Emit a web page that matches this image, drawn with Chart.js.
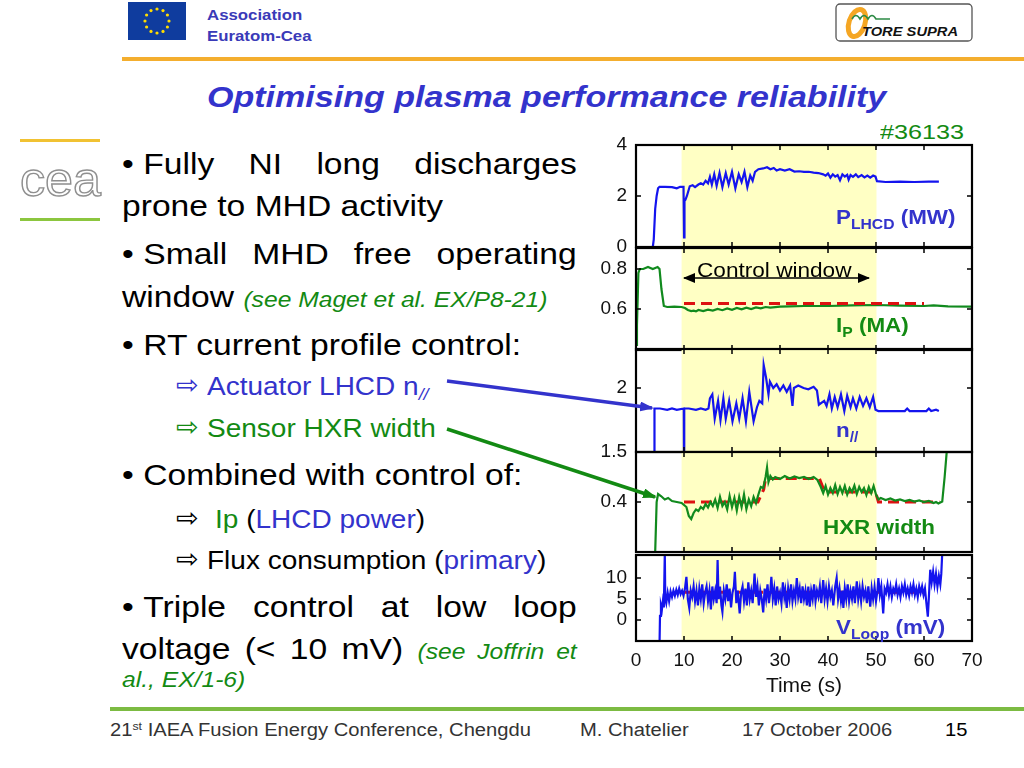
<!DOCTYPE html>
<html><head><meta charset="utf-8">
<script src="https://cdn.jsdelivr.net/npm/chart.js@4.4.1/dist/chart.umd.min.js"></script>
<style>
html,body{margin:0;padding:0;background:#fff;}
body{width:1024px;height:768px;position:relative;overflow:hidden;font-family:"Liberation Sans",Arial,Helvetica,sans-serif;}
.a{position:absolute;white-space:nowrap;transform-origin:0 0;}
.m{font-size:30px;line-height:30px;color:#000;transform:scaleX(1.12);}
.j{width:406px;white-space:normal;text-align:justify;text-align-last:justify;}
.b{display:inline-block;width:19px;}
.s{font-size:25px;line-height:25px;transform:scaleX(1.12);}
.ar{font-family:"DejaVu Sans",sans-serif;font-size:27px;line-height:27px;}
.ref{font-size:22px;font-style:italic;color:#138a13;}
.bl{color:#3333cc;} .gr{color:#138a13;}
.lab{font-size:20px;line-height:20px;font-weight:bold;transform:scaleX(1.12);}
.sub{font-size:14px;position:relative;top:5px;}
.f{font-size:18px;line-height:18px;color:#333;transform:scaleX(1.12);}
canvas{position:absolute;}
</style>
</head><body>

<!-- header -->
<svg class="a" style="left:0;top:0" width="1024" height="768">
  <rect x="128" y="2" width="58" height="38" fill="#0f3c9e"/>
  <g fill="#ffdd00">
    <circle cx="157" cy="9" r="1.6"/><circle cx="163" cy="10.6" r="1.6"/><circle cx="167.4" cy="15" r="1.6"/>
    <circle cx="169" cy="21" r="1.6"/><circle cx="167.4" cy="27" r="1.6"/><circle cx="163" cy="31.4" r="1.6"/>
    <circle cx="157" cy="33" r="1.6"/><circle cx="151" cy="31.4" r="1.6"/><circle cx="146.6" cy="27" r="1.6"/>
    <circle cx="145" cy="21" r="1.6"/><circle cx="146.6" cy="15" r="1.6"/><circle cx="151" cy="10.6" r="1.6"/>
  </g>
  <rect x="836" y="4" width="136" height="37" rx="4" fill="#fff" stroke="#555" stroke-width="1.3"/>
  <ellipse cx="857" cy="23" rx="8" ry="14" fill="none" stroke="#f5a623" stroke-width="5" transform="rotate(18 857 23)"/>
  <path d="M852 19 q4 -7 8 0 q4 -7 8 0 q4 -7 8 0 l14 0" stroke="#2d8a45" fill="none" stroke-width="1.6"/>
  <text x="862" y="36" font-family="Liberation Sans" font-style="italic" font-weight="bold" font-size="13" fill="#111" textLength="96" lengthAdjust="spacingAndGlyphs">TORE SUPRA</text>
  <rect x="122" y="57" width="902" height="4" fill="#f4ae2e"/>
  <!-- cea logo -->
  <rect x="20" y="139" width="80" height="3" fill="#f1c232"/>
  <rect x="20" y="218" width="80" height="3" fill="#8cc63f"/>
  <text x="20" y="196" font-family="Liberation Sans" font-size="48" fill="#fff" stroke="#8f8f8f" stroke-width="1.4" textLength="81" lengthAdjust="spacingAndGlyphs">cea</text>
  <!-- footer line -->
  <rect x="110" y="707" width="914" height="4" fill="#7cbb42"/>
</svg>

<div class="a" style="left:207px;top:7px;font-size:15px;line-height:15px;font-weight:bold;color:#3a3ab8;transform:scaleX(1.12)">Association</div>
<div class="a" style="left:207px;top:28px;font-size:15px;line-height:15px;font-weight:bold;color:#3a3ab8;transform:scaleX(1.12)">Euratom-Cea</div>
<div class="a" style="left:207px;top:82px;font-size:30px;line-height:30px;font-weight:bold;font-style:italic;color:#3333cc;transform:scaleX(1.135)">Optimising plasma performance reliability</div>
<div class="a gr" style="left:880px;top:121px;font-size:21px;line-height:21px;transform:scaleX(1.2)">#36133</div>

<!-- bullet text -->
<div class="a m j" style="left:122px;top:149px"><span class="b">•</span>Fully NI long discharges</div>
<div class="a m" style="left:122px;top:191px">prone to MHD activity</div>
<div class="a m j" style="left:122px;top:239px"><span class="b">•</span>Small MHD free operating</div>
<div class="a m" style="left:122px;top:282px">window <span class="ref">(see Maget et al. EX/P8-21)</span></div>
<div class="a m" style="left:122px;top:330px"><span class="b">•</span>RT current profile control:</div>
<div class="a ar bl" style="left:176px;top:371px">⇨</div>
<div class="a s bl" style="left:207px;top:374px">Actuator LHCD n<span style="font-size:16px;position:relative;top:5px;font-style:italic">//</span></div>
<div class="a ar gr" style="left:176px;top:413px">⇨</div>
<div class="a s gr" style="left:207px;top:416px">Sensor HXR width</div>
<div class="a m" style="left:122px;top:460px"><span class="b">•</span>Combined with control of:</div>
<div class="a ar" style="left:176px;top:504px">⇨</div>
<div class="a s" style="left:215px;top:507px"><span class="gr">Ip</span> (<span class="bl">LHCD power</span>)</div>
<div class="a ar" style="left:176px;top:545px">⇨</div>
<div class="a s" style="left:207px;top:548px">Flux consumption (<span class="bl">primary</span>)</div>
<div class="a m j" style="left:122px;top:592px"><span class="b">•</span>Triple control at low loop</div>
<div class="a m j" style="left:122px;top:634px">voltage (&lt; 10 mV) <span class="ref">(see Joffrin et</span></div>
<div class="a ref" style="left:122px;top:669px;line-height:22px;transform:scaleX(1.12)">al., EX/1-6)</div>

<!-- footer -->
<div class="a f" style="left:110px;top:721px">21<span style="font-size:11px;position:relative;top:-6px">st</span> IAEA Fusion Energy Conference, Chengdu</div>
<div class="a f" style="left:580px;top:721px">M. Chatelier</div>
<div class="a f" style="left:742px;top:721px">17 October 2006</div>
<div class="a f" style="left:945px;top:721px;color:#000">15</div>

<canvas id="c1"></canvas>
<canvas id="c2"></canvas>
<canvas id="c3"></canvas>
<canvas id="c4"></canvas>
<canvas id="c5"></canvas>

<svg class="a" style="left:0;top:0;pointer-events:none" width="1024" height="768">
  <defs>
    <marker id="mb2" markerWidth="14" markerHeight="10" refX="12" refY="5" orient="auto" markerUnits="userSpaceOnUse"><path d="M0,0 L14,5 L0,10 z" fill="#3333cc"/></marker>
    <marker id="mg2" markerWidth="14" markerHeight="10" refX="12" refY="5" orient="auto" markerUnits="userSpaceOnUse"><path d="M0,0 L14,5 L0,10 z" fill="#138a13"/></marker>
    <marker id="mk2" markerWidth="12" markerHeight="10" refX="11" refY="5" orient="auto-start-reverse" markerUnits="userSpaceOnUse"><path d="M0,0 L12,5 L0,10 z" fill="#000"/></marker>
  </defs>
  <line x1="447" y1="381" x2="652" y2="408" stroke="#3333cc" stroke-width="3.5" marker-end="url(#mb2)"/>
  <line x1="447" y1="429" x2="655" y2="497" stroke="#138a13" stroke-width="3.5" marker-end="url(#mg2)"/>
  <line x1="684" y1="278" x2="869" y2="278" stroke="#000" stroke-width="1.5" marker-start="url(#mk2)" marker-end="url(#mk2)"/>
</svg>

<!-- panel annotations -->
<div class="a" style="left:697px;top:260px;font-size:20px;line-height:20px;color:#000;transform:scaleX(1.13)">Control window</div>
<div class="a lab bl" style="left:836px;top:207px">P<span class="sub">LHCD</span> (MW)</div>
<div class="a lab gr" style="left:836px;top:315px">I<span class="sub">P</span> (MA)</div>
<div class="a lab bl" style="left:836px;top:420px">n<span class="sub">//</span></div>
<div class="a lab gr" style="left:823px;top:517px">HXR width</div>
<div class="a lab bl" style="left:836px;top:617px">V<span class="sub">Loop</span> (mV)</div>

<script>
// ---------- data ----------
const xTicks = [0, 10, 20, 30, 40, 50, 60, 70];
const xTitle = 'Time (s)';
const controlWindow = [9.5, 50.1];

const p1Ticks = [0, 2, 4];
const p1Time = [0, 3.5, 3.7, 4.0, 4.3, 4.6, 4.9, 6.0, 7.5, 8.5, 9.2, 9.9, 10.0, 10.1, 10.3, 10.6,
  11.2, 11.8, 12.3, 13.0, 13.5, 14.0, 14.5, 15.0, 15.4, 15.8, 16.3, 16.8, 17.4, 18.0, 18.7, 19.3,
  20.0, 20.7, 21.4, 22.0, 22.6, 23.2, 23.8, 24.3, 24.8, 25.5, 26.5, 27.3, 28.0, 28.7, 29.3, 30.0,
  31, 32, 33, 34, 35, 36, 37, 38, 39, 39.5, 40, 40.5, 41, 41.5, 42, 42.5,
  43, 43.5, 44, 44.3, 44.7, 45.2, 45.8, 46.3, 47, 47.6, 48.2, 48.8, 49.4, 49.9, 50.2,
  52, 55, 58, 61, 63.1];
const p1Power = [0, 0, 0.3, 1.5, 2.0, 2.3, 2.36, 2.36, 2.35, 2.3, 2.36, 2.36, 0.38, 1.8, 1.85, 2.0,
  2.38, 2.42, 2.35, 2.45, 2.5, 2.45, 2.6, 2.5, 2.75, 2.45, 2.85, 2.4, 2.9, 2.35, 2.9, 2.45,
  2.95, 2.3, 2.85, 2.55, 2.95, 2.35, 2.8, 2.6, 2.95, 3.05, 3.08, 3.13, 3.05, 3.1, 3.0, 3.05,
  3.0, 3.05, 2.96, 2.97, 2.95, 2.95, 2.92, 2.9, 2.85, 2.8, 2.88, 2.72, 2.85, 2.76, 2.82, 2.62,
  2.85, 2.76, 2.83, 2.64, 2.82, 2.75, 2.85, 2.74, 2.82, 2.73, 2.8, 2.72, 2.8, 2.76, 2.58,
  2.55, 2.56, 2.55, 2.56, 2.56];

const p2Ticks = [0.6, 0.8];
const p2Time = [0, 0.2, 0.5, 0.8, 1.5, 2.5, 3.5, 4.5, 4.9, 5.3, 5.8, 6.5, 8, 9.5, 10.2, 10.8,
  11.5, 12, 12.5, 13, 14, 15, 16, 17, 18, 19, 20, 21, 22, 23, 24, 25,
  26, 27, 28, 30, 32, 35, 40, 45, 50, 55, 60, 62, 65, 70];
const p2Current = [0.42, 0.52, 0.78, 0.80, 0.80, 0.81, 0.80, 0.81, 0.80, 0.70, 0.615, 0.61, 0.612, 0.61, 0.605, 0.595,
  0.59, 0.592, 0.588, 0.595, 0.59, 0.597, 0.592, 0.60, 0.594, 0.603, 0.596, 0.605, 0.598, 0.607, 0.60, 0.608,
  0.603, 0.61, 0.607, 0.612, 0.613, 0.615, 0.615, 0.618, 0.62, 0.617, 0.615, 0.618, 0.613, 0.612];
const p2RefTime = [10, 60];
const p2RefCurrent = [0.628, 0.628];

const p3Ticks = [1.5, 2];
const p3Time = [3.8, 3.85, 5, 6.5, 7.5, 8.5, 9.95, 10.0, 10.05, 11, 12.5, 13.5, 14.5, 15.1, 15.4, 15.9,
  16.4, 17.1, 17.6, 18.2, 18.7, 19.4, 20.1, 20.9, 21.5, 22.2, 22.9, 23.6, 24.5, 25.2, 25.7, 26.3,
  26.6, 27.1, 27.6, 27.9, 28.6, 29.3, 30.0, 30.7, 31.4, 32.1, 32.6, 32.9, 33.8, 34.9, 35.9, 37.0,
  37.7, 38.1, 39.2, 39.7, 40.3, 40.8, 41.4, 42.0, 42.7, 43.4, 44.0, 44.7, 45.2, 45.9, 46.6, 47.3,
  48.0, 48.7, 49.4, 49.9, 50.5, 53, 56, 56.5, 57, 60.5, 61, 61.5, 62.5, 63.1, 64.0, 64.9, 64.95];
const p3Npar = [1.3, 1.84, 1.84, 1.83, 1.84, 1.83, 1.84, 1.3, 1.84, 1.84, 1.83, 1.84, 1.83, 1.84, 1.92, 1.95,
  1.76, 1.9, 1.75, 1.92, 1.76, 1.9, 1.74, 1.88, 1.76, 1.92, 1.74, 1.97, 1.74, 1.85, 1.9, 1.88,
  2.18, 2.08, 1.95, 2.05, 2.0, 2.03, 1.98, 2.02, 1.97, 2.02, 1.86, 2.0, 2.02, 2.0, 1.99, 2.01,
  1.98, 1.87, 1.9, 1.86, 1.95, 1.84, 1.93, 1.85, 1.95, 1.82, 1.94, 1.85, 1.92, 1.84, 1.93, 1.86,
  1.92, 1.85, 1.93, 1.83, 1.82, 1.82, 1.82, 1.84, 1.82, 1.82, 1.84, 1.82, 1.83, 1.82, null, 1.48, 1.3];

const p4Ticks = [0.4];
const p4Time = [3.8, 4.0, 4.3, 4.6, 5.2, 6.0, 6.7, 7.5, 8.5, 9.5, 10.5, 11, 11.5, 12, 12.5, 13,
  13.5, 14, 14.5, 15, 15.5, 16, 16.5, 17, 17.5, 18, 18.5, 19, 19.5, 20, 20.5, 21,
  21.5, 22, 22.5, 23, 23.5, 24, 24.5, 25, 25.5, 26, 26.5, 27, 27.3, 27.6, 28, 28.5,
  29, 30, 31, 32, 33, 34, 35, 36, 37, 37.8, 38.5, 39, 39.5, 40, 40.5, 41,
  41.5, 42, 42.5, 43, 43.5, 44, 44.5, 45, 45.5, 46, 46.5, 47, 47.5, 48, 48.5, 49,
  49.5, 50, 50.5, 51, 52, 53, 54, 55, 56, 57, 58, 59, 60, 61, 62, 62.5,
  63, 63.8, 64.3, 64.9];
const p4Width = [0.25, 0.30, 0.40, 0.416, 0.412, 0.405, 0.408, 0.402, 0.40, 0.398, 0.39, 0.372, 0.366, 0.378, 0.385, 0.382,
  0.39, 0.386, 0.396, 0.389, 0.40, 0.392, 0.405, 0.388, 0.41, 0.392, 0.40, 0.385, 0.412, 0.39, 0.408, 0.383,
  0.41, 0.39, 0.415, 0.386, 0.405, 0.392, 0.41, 0.398, 0.415, 0.43, 0.428, 0.45, 0.469, 0.44, 0.452, 0.445,
  0.45, 0.446, 0.452, 0.447, 0.451, 0.448, 0.45, 0.446, 0.45, 0.444, 0.43, 0.418, 0.432, 0.415, 0.428, 0.418,
  0.434, 0.416, 0.43, 0.418, 0.432, 0.415, 0.428, 0.42, 0.433, 0.416, 0.43, 0.42, 0.428, 0.414, 0.43, 0.418,
  0.432, 0.415, 0.405, 0.408, 0.404, 0.407, 0.403, 0.405, 0.402, 0.404, 0.401, 0.403, 0.40, 0.402, 0.398, 0.40,
  0.397, 0.401, 0.45, 0.52];
const p4RefTime = [10, 25.4, 26.6, 27.0, 38.2, 39.3, 49.9, 50.5, 63.2];
const p4RefWidth = [0.40, 0.40, 0.425, 0.447, 0.447, 0.42, 0.42, 0.40, 0.40];

const p5Ticks = [0, 5, 10];
const p5Time = [
  4.9, 5.0, 5.2, 5.4, 5.6, 5.8, 6.0, 6.1, 6.3, 6.6,
  6.9, 7.2, 7.5, 7.8, 8.1, 8.4, 8.7, 9.0, 9.3, 9.6,
  9.9, 10.2, 10.5, 10.8, 11.1, 11.4, 11.7, 12.0, 12.3, 12.6,
  12.9, 13.2, 13.5, 13.8, 14.1, 14.4, 14.7, 15.0, 15.3, 15.6,
  15.9, 16.2, 16.5, 16.8, 17.0, 17.2, 17.5, 17.8, 18.0, 18.3,
  18.6, 18.9, 19.2, 19.5, 19.8, 20.1, 20.4, 20.6, 20.9, 21.2,
  21.6, 21.9, 22.2, 22.5, 22.8, 23.1, 23.4, 23.7, 24.0, 24.3,
  24.7, 25.0, 25.3, 25.6, 25.9, 26.2, 26.5, 26.8, 27.1, 27.4,
  27.7, 28.0, 28.2, 28.5, 28.8, 29.1, 29.4, 29.7, 30.0, 30.3,
  30.6, 30.9, 31.1, 31.4, 31.7, 32.0, 32.3, 32.6, 32.9, 33.2,
  33.5, 33.8, 34.1, 34.4, 34.7, 35.0, 35.3, 35.6, 35.9, 36.2,
  36.5, 36.8, 37.1, 37.4, 37.7, 38.0, 38.3, 38.6, 39.0, 39.3,
  39.6, 39.9, 40.2, 40.5, 40.8, 41.1, 41.5, 41.8, 42.1, 42.4,
  42.7, 43.0, 43.2, 43.5, 43.8, 44.1, 44.4, 44.7, 45.0, 45.3,
  45.6, 46.0, 46.3, 46.6, 46.9, 47.2, 47.5, 47.8, 48.1, 48.4,
  48.8, 49.1, 49.4, 49.7, 50.0, 50.3, 50.5, 50.8, 51.1, 51.5,
  51.8, 52.1, 52.4, 52.7, 53.0, 53.3, 53.6, 53.9, 54.2, 54.5,
  54.8, 55.1, 55.4, 55.7, 56.0, 56.3, 56.6, 56.9, 57.2, 57.5,
  57.8, 58.1, 58.4, 58.7, 59.0, 59.3, 59.6, 59.9, 60.2, 60.5,
  60.8, 61.0, 61.3, 61.6, 61.9, 62.2, 62.5, 62.8, 63.1, 63.4,
  63.6, 63.8];
const p5Vloop = [
  -6, 1, 3.5, 2.5, 4.5, 3, 16, 5, 4, 6.5,
  4.5, 6.8, 5.5, 7, 5.8, 7.2, 6, 7.5, 6.2, 7,
  5.8, 7.5, 10.3, 5, 2.9, 7, 5.5, 8, 4.5, 7,
  3.5, 7.5, 5, 8.5, 4, 6.5, 8, 4.5, 7, 2.5,
  8, 5, 7, 4, 14.3, 5, 8, 3.5, 2, 7,
  5, 8.5, 4.5, 7.5, 3, 6.5, 8, 11.5, 4, 7,
  1.6, 6.5, 8, 4.5, 7.5, 3.5, 9, 5, 7, 4,
  11.1, 5.5, 8, 3.5, 7, 5, 1.8, 7.5, 5, 8.5,
  4, 7, 10.3, 5, 7.5, 3.5, 8, 5, 6.5, 4,
  9, 5.5, 7, 2.9, 7.5, 5, 8.5, 4.5, 7, 5,
  10, 5.5, 7.5, 4, 8, 5, 7, 3.5, 8, 3.2,
  7, 5, 8.5, 4.5, 7, 5.5, 8, 4, 9.5, 5,
  7.5, 4.5, 8, 5.5, 7, 3.5, 8, 10, 5, 7.5,
  4.5, 7, 2.9, 7.5, 5, 8.5, 4.5, 7, 5, 8,
  4, 9.2, 5, 7.5, 4.5, 8, 5.5, 7, 4, 8,
  3.2, 7.5, 5, 7.8, 4.5, 7, 10, 6, 8, 1.6,
  7.5, 6.5, 8.5, 6, 8, 5.5, 7.5, 6.5, 8.5, 6,
  7.5, 5.5, 8, 6.5, 8.5, 6, 7.5, 5.8, 8, 6.5,
  8.5, 6, 7.5, 5.5, 8, 6.5, 8, 6, 7.5, 4,
  0.8, 5, 12, 9, 11.5, 8.5, 11, 8, 10.5, 8.5,
  11, 16];
const p5RefTime = [10, 60.3];
const p5RefVloop = [6.6, 6.6];

// ---------- styling ----------
const BLUE = '#1414ee', GREEN = '#118a1e', RED = '#dd1111';
Chart.defaults.font.family = "'Liberation Sans', Arial, Helvetica, sans-serif";

const pts = (t, v) => t.map((x, i) => ({x, y: v[i]}));
const line = (t, v, color) => ({data: pts(t, v), borderColor: color, borderWidth: 2.2, pointRadius: 0, tension: 0, fill: false});
const dash = (t, v) => ({data: pts(t, v), borderColor: RED, borderWidth: 3, borderDash: [11, 6], pointRadius: 0, tension: 0, fill: false});

const framePlugin = {
  id: 'frame',
  beforeDatasetsDraw(chart) {
    const {ctx, chartArea: a, scales: {x}} = chart;
    const x0 = x.getPixelForValue(controlWindow[0]), x1 = x.getPixelForValue(controlWindow[1]);
    ctx.save(); ctx.fillStyle = '#ffffc4';
    ctx.fillRect(x0, a.top, x1 - x0, a.bottom - a.top); ctx.restore();
  },
  afterDatasetsDraw(chart) {
    const {ctx, chartArea: a, scales: {x, y}} = chart;
    ctx.save(); ctx.strokeStyle = '#000'; ctx.lineWidth = 2.2;
    ctx.strokeRect(a.left, a.top, a.right - a.left, a.bottom - a.top);
    ctx.lineWidth = 1.5; ctx.beginPath();
    xTicks.slice(1, -1).forEach(v => {
      const p = x.getPixelForValue(v);
      ctx.moveTo(p, a.top); ctx.lineTo(p, a.top + 5);
      ctx.moveTo(p, a.bottom); ctx.lineTo(p, a.bottom - 5);
    });
    y.ticks.forEach(t => {
      const p = y.getPixelForValue(t.value);
      if (p <= a.top + 1 || p >= a.bottom - 1) return;
      ctx.moveTo(a.left, p); ctx.lineTo(a.left + 5, p);
      ctx.moveTo(a.right, p); ctx.lineTo(a.right - 5, p);
    });
    ctx.stroke(); ctx.restore();
  }
};

function panel(id, plotTop, plotH, yMin, yMax, yTicks, datasets, showX) {
  const cv = document.getElementById(id);
  const padT = 26, padB = showX ? 0 : 26, xH = showX ? 60 : 0;
  cv.width = 420; cv.height = padT + plotH + padB + xH;
  cv.style.left = '580px'; cv.style.top = (plotTop - padT) + 'px';
  new Chart(cv, {
    type: 'line',
    data: {datasets},
    options: {
      responsive: false, animation: false, devicePixelRatio: 1,
      layout: {padding: {left: 0, right: 28, top: padT, bottom: padB}},
      plugins: {legend: {display: false}, tooltip: {enabled: false}},
      scales: {
        x: {
          type: 'linear', min: 0, max: 70, display: showX,
          grid: {display: false, drawTicks: false}, border: {display: false},
          afterBuildTicks: s => { s.ticks = xTicks.map(v => ({value: v})); },
          afterFit: s => { s.height = xH; },
          ticks: {padding: 8, color: '#111', font: {size: 19}, maxRotation: 0, autoSkip: false, callback: v => String(v)},
          title: {display: showX, text: xTitle, color: '#111', font: {size: 21}, padding: {top: 0, bottom: 2}}
        },
        y: {
          min: yMin, max: yMax,
          grid: {display: false, drawTicks: false}, border: {display: false},
          afterBuildTicks: s => { s.ticks = yTicks.map(v => ({value: v})); },
          afterFit: s => { s.width = 56; },
          ticks: {padding: 9, color: '#111', font: {size: 19}, callback: v => String(v)}
        }
      }
    },
    plugins: [framePlugin]
  });
}

panel('c1', 145, 102, 0, 4, p1Ticks, [line(p1Time, p1Power, BLUE)], false);
panel('c2', 248, 102, 0.395, 0.905, p2Ticks, [dash(p2RefTime, p2RefCurrent), line(p2Time, p2Current, GREEN)], false);
panel('c3', 349, 103, 1.5, 2.305, p3Ticks, [line(p3Time, p3Npar, BLUE)], false);
panel('c4', 452, 100, 0.3, 0.5, p4Ticks, [line(p4Time, p4Width, GREEN), dash(p4RefTime, p4RefWidth)], false);
panel('c5', 555, 86, -5, 15.5, p5Ticks, [line(p5Time, p5Vloop, BLUE), dash(p5RefTime, p5RefVloop)], true);
</script>
</body></html>
